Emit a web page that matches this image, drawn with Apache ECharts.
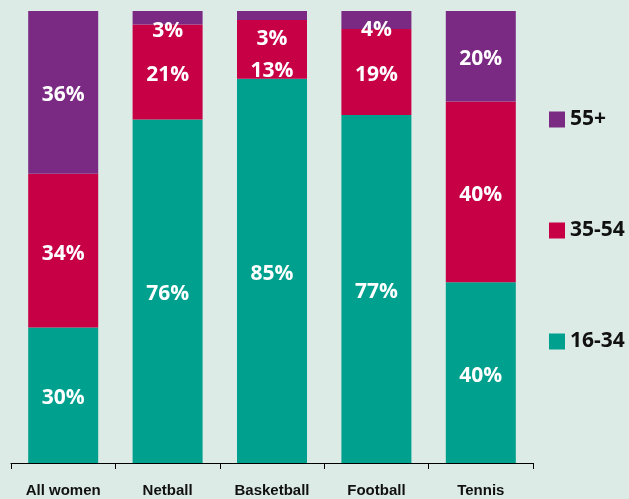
<!DOCTYPE html>
<html>
<head>
<meta charset="utf-8">
<script src="https://cdn.jsdelivr.net/npm/echarts@6/dist/echarts.min.js"></script>
<style>
  html, body { margin: 0; padding: 0; background: #dcebe5; }
  #chart { width: 629px; height: 499px; }
</style>
</head>
<body>
<div id="chart"></div>
<script>
// share of women players by age group
const categories = ['All women', 'Netball', 'Basketball', 'Football', 'Tennis'];
const age16to34 = [30, 76, 85, 77, 40];
const age35to54 = [34, 21, 13, 19, 40];
const age55plus = [36, 3, 3, 4, 20];

// small segments: labels pushed down a bit, like the original
const labelShift = {
  '35-54': [0, 0, 22, 0, 0],
  '55+': [0, 13, 23, 10, 0]
};

const colors = { '16-34': '#00a08e', '35-54': '#c70046', '55+': '#7b2a83' };

function makeSeries(name, values) {
  return {
    name: name,
    type: 'bar',
    stack: 'total',
    barWidth: 70,
    itemStyle: { color: colors[name] },
    label: {
      show: true,
      position: 'inside',
      offset: [0, 3],
      formatter: '{c}%',
      color: '#fff',
      fontSize: 21,
      fontWeight: 'bold',
      fontFamily: 'Open Sans'
    },
    data: values.map((v, i) => {
      let shift = labelShift[name] ? labelShift[name][i] : 0;
      return shift ? { value: v, label: { offset: [0, shift] } } : v;
    })
  };
}

let myChart = echarts.init(document.getElementById('chart'));
let option = {
  backgroundColor: '#dcebe5',
  animation: false,
  grid: { left: 11, right: 96, top: 11, bottom: 36 },
  legend: {
    data: ['55+', '35-54', '16-34'],
    orient: 'vertical',
    left: 544,
    top: 104,
    itemWidth: 16,
    itemHeight: 16,
    itemGap: 90,
    icon: 'rect',
    textStyle: {
      fontSize: 21,
      fontWeight: 'bold',
      color: '#111',
      fontFamily: 'Open Sans'
    }
  },
  xAxis: {
    type: 'category',
    data: categories,
    axisLine: { lineStyle: { color: '#000', width: 1 } },
    axisTick: { show: true, length: 6, lineStyle: { color: '#000' } },
    axisLabel: {
      margin: 20,
      color: '#111',
      fontSize: 15,
      fontWeight: 'bold',
      fontFamily: 'Liberation Sans Narrow, Liberation Sans, Arial'
    }
  },
  yAxis: {
    type: 'value',
    min: 0,
    max: 100,
    show: false,
    splitLine: { show: false }
  },
  series: [
    makeSeries('16-34', age16to34),
    makeSeries('35-54', age35to54),
    makeSeries('55+', age55plus)
  ]
};
option && myChart.setOption(option);
</script>
</body>
</html>
